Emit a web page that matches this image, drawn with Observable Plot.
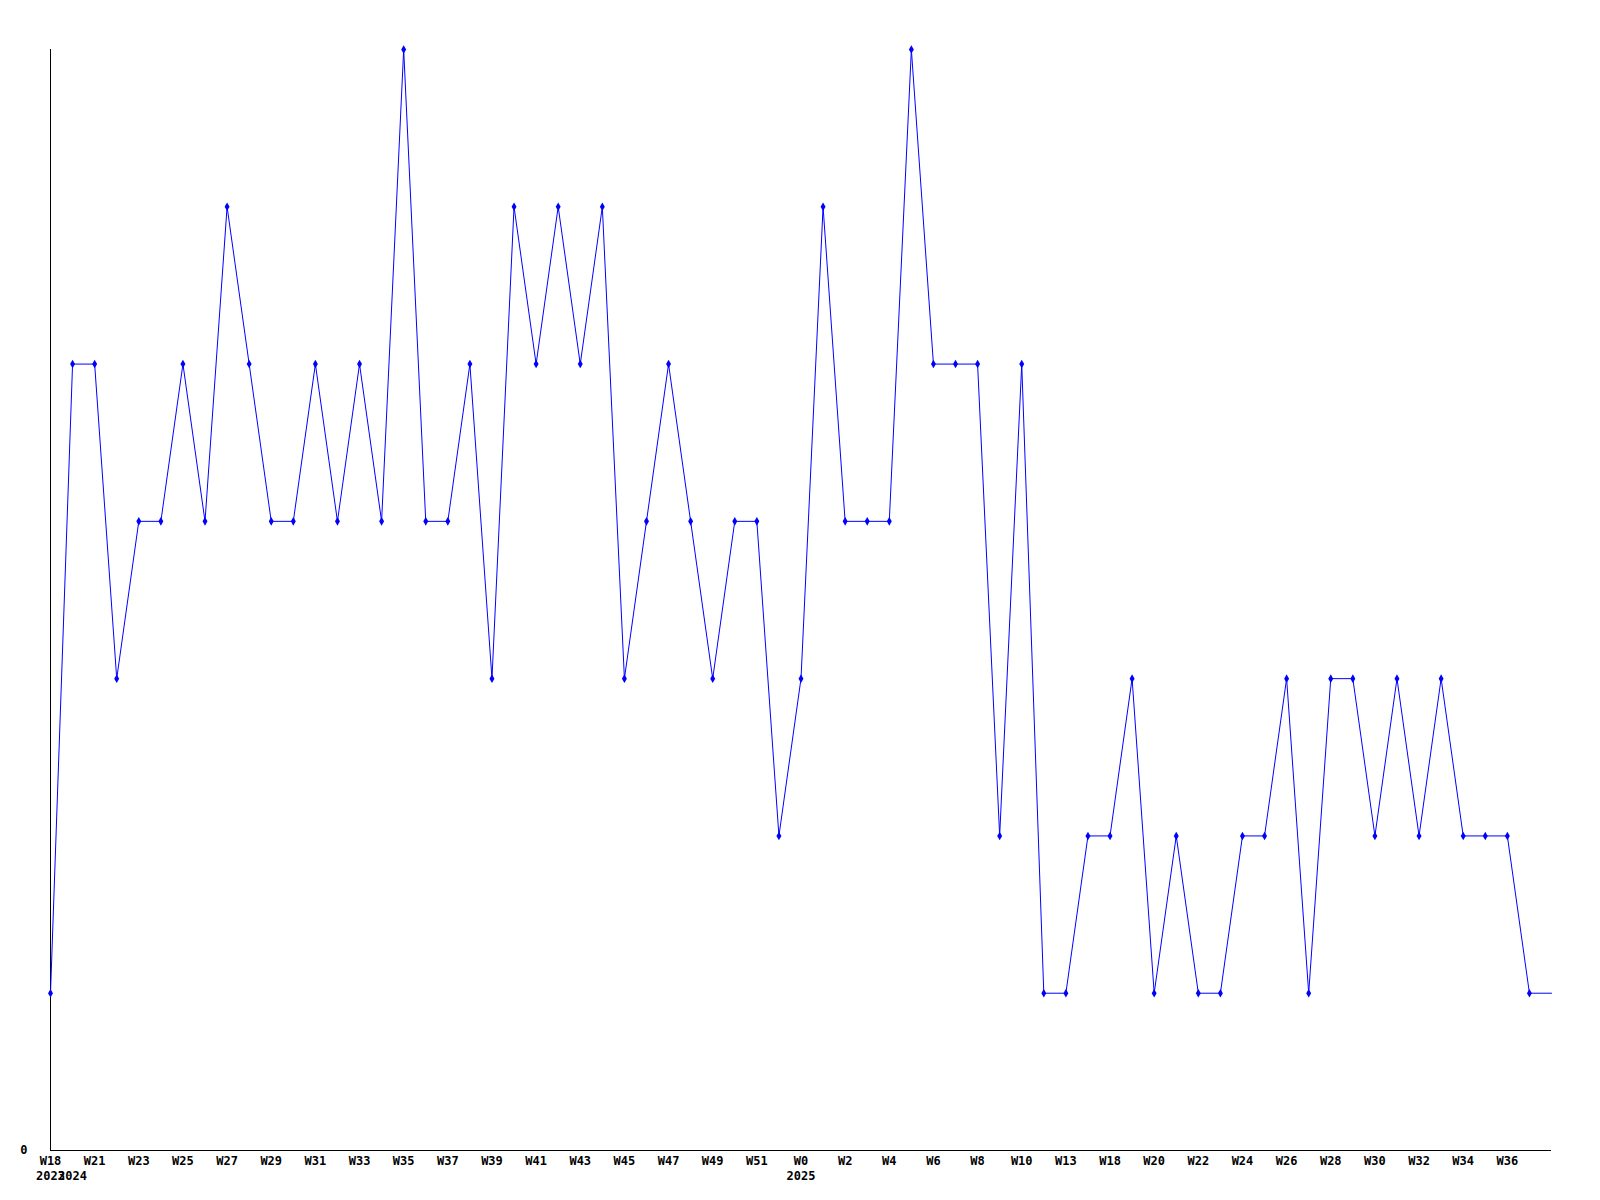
<!DOCTYPE html>
<html>
<head>
<meta charset="utf-8">
<script src="https://cdn.jsdelivr.net/npm/d3@7"></script>
<script src="https://cdn.jsdelivr.net/npm/@observablehq/plot@0.6"></script>
<style>
  html, body { margin: 0; padding: 0; background: #fff; }
  #chart svg { display: block; }
</style>
</head>
<body>
<div id="chart"></div>
<script>
// Week labels for each point (categorical x)
const weeks = [
  "W18","W20","W21","W22","W23","W24","W25","W26","W27","W28",
  "W29","W30","W31","W32","W33","W34","W35","W36","W37","W38",
  "W39","W40","W41","W42","W43","W44","W45","W46","W47","W48",
  "W49","W50","W51","W52","W0","W1","W2","W3","W4","W5",
  "W6","W7","W8","W9","W10","W12","W13","W17","W18","W19",
  "W20","W21","W22","W23","W24","W25","W26","W27","W28","W29",
  "W30","W31","W32","W33","W34","W35","W36","W37","W38"
];
// Year labels shown under the first week of each year
const yearIndex = [0, 1, 34];
const yearLabels = ["2023", "2024", "2025"];
// Values per week
const values = [
  1,5,5,3,4,4,5,4,6,5,
  4,4,5,4,5,4,7,4,4,5,
  3,6,5,6,5,6,3,4,5,4,
  3,4,4,2,3,6,4,4,4,7,
  5,5,5,2,5,1,1,2,2,3,
  1,2,1,1,2,2,3,1,3,3,
  2,3,2,3,2,2,2,1,1
];

const data = values.map((v, i) => ({i, week: weeks[i], v}));
const tickIdx = d3.range(0, 67, 2);
const font = "'DejaVu Sans Mono', monospace";

const chart = Plot.plot({
  width: 1600,
  height: 1200,
  marginLeft: 50,
  marginRight: 49,
  marginTop: 49,
  marginBottom: 50,
  style: {fontFamily: font, fontSize: "12px", fontWeight: "bold", color: "#000", background: "#fff"},
  x: {type: "linear", domain: [0, values.length - 1]},
  y: {domain: [0, 7]},
  marks: [
    Plot.axisX({ticks: tickIdx, tickFormat: i => weeks[i], tickSize: 0, tickPadding: 6, fontWeight: "bold", label: null}),
    Plot.axisX(yearIndex, {tickFormat: d => yearLabels[yearIndex.indexOf(d)], tickSize: 0, tickPadding: 21, fontWeight: "bold", label: null}),
    Plot.axisY({ticks: [0], tickFormat: d => String(d), tickSize: 0, tickPadding: 23, fontWeight: "bold", label: null}),
    Plot.ruleX([0], {stroke: "#000", strokeWidth: 1}),
    Plot.ruleY([0], {stroke: "#000", strokeWidth: 1}),
    Plot.line(data, {x: "i", y: "v", stroke: "#0000ff", strokeWidth: 1}),
    Plot.dot(data.slice(0, data.length - 1), {x: "i", y: "v", symbol: "diamond", r: 2.6, fill: "#0000ff", stroke: null})
  ]
});
document.getElementById("chart").appendChild(chart);
</script>
</body>
</html>
